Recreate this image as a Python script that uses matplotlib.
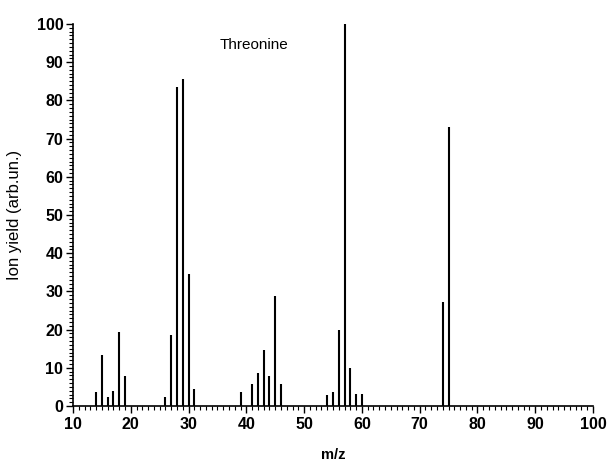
import matplotlib
matplotlib.use("Agg")
import matplotlib.pyplot as plt
from matplotlib.ticker import MultipleLocator

mz = [14, 15, 16, 17, 18, 19, 26, 27, 28, 29, 30, 31,
      39, 41, 42, 43, 44, 45, 46,
      54, 55, 56, 57, 58, 59, 60, 74, 75]
ion_yield = [3.6, 13.3, 2.4, 3.9, 19.3, 7.8, 2.4, 18.6, 83.5, 85.6, 34.6, 4.5,
             3.6, 5.8, 8.6, 14.6, 7.8, 28.7, 5.7,
             2.8, 3.6, 19.8, 100, 9.9, 3.1, 3.1, 27.2, 73.0]
title_text = "Threonine"
xticks = list(range(10, 101, 10))
yticks = list(range(0, 101, 10))

plt.rcParams['font.family'] = ['Liberation Sans', 'DejaVu Sans']

fig = plt.figure(figsize=(6.08, 4.63), dpi=100)
ax = fig.add_axes([73/608, 1-406/463, 520/608, 382/463])

ax.vlines(mz, 0, ion_yield, colors='black', linewidth=1.5)

ax.set_xlim(10, 100)
ax.set_ylim(0, 100)
ax.set_xticks(xticks)
ax.set_yticks(yticks)
ax.xaxis.set_minor_locator(MultipleLocator(1))
ax.yaxis.set_minor_locator(MultipleLocator(1))
ax.tick_params(which='major', direction='out', length=5, width=1, labelsize=11.5)
ax.tick_params(which='minor', direction='out', length=3, width=0.8)
ax.tick_params(axis='y', which='major', pad=2)
ax.tick_params(axis='x', which='major', pad=3)
for lbl in ax.get_xticklabels() + ax.get_yticklabels():
    lbl.set_fontweight('bold')

ax.spines['top'].set_visible(False)
ax.spines['right'].set_visible(False)
ax.spines['left'].set_linewidth(1.2)
ax.spines['bottom'].set_linewidth(1.2)

ax.set_xlabel('m/z', fontsize=10.5, fontweight='bold')
ax.xaxis.set_label_coords(0.5, -0.128)
ax.xaxis.label.set_va('center')
ax.set_ylabel('Ion yield (arb.un.)', fontsize=12)
ax.yaxis.set_label_coords(-0.112, 0.5)
ax.yaxis.label.set_va('center')

ax.text(35.3, 94.5, title_text, fontsize=11, ha='left', va='center')

fig.savefig('out.png', dpi=100)
